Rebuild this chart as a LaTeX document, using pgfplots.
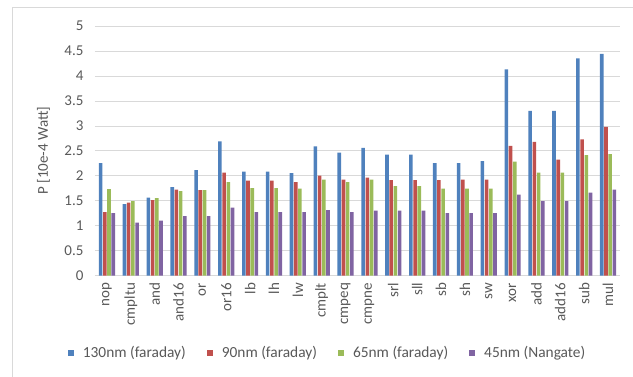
\documentclass[border=0pt]{standalone}
\usepackage{fontspec}
\setmainfont{Carlito}
\usepackage{pgfplots}
\usepackage{pgfplotstable}
\pgfplotsset{compat=1.18}

\definecolor{c130}{HTML}{4F81BD}
\definecolor{c90}{HTML}{C0504D}
\definecolor{c65}{HTML}{9BBB59}
\definecolor{c45}{HTML}{8064A2}
\definecolor{txt}{HTML}{595959}
\definecolor{gridc}{HTML}{D9D9D9}

% Power per instruction, in units of 10e-4 W
\pgfplotstableread{
x name   t130 t90  t65  t45
0  nop    2.25 1.27 1.73 1.25
1  cmpltu 1.43 1.46 1.49 1.06
2  and    1.56 1.51 1.55 1.10
3  and16  1.77 1.72 1.69 1.19
4  or     2.11 1.71 1.71 1.19
5  or16   2.69 2.06 1.87 1.36
6  lb     2.08 1.90 1.75 1.27
7  lh     2.08 1.90 1.75 1.27
8  lw     2.05 1.87 1.74 1.27
9  cmplt  2.59 2.00 1.92 1.31
10 cmpeq  2.46 1.92 1.87 1.27
11 cmpne  2.56 1.96 1.92 1.30
12 srl    2.42 1.91 1.79 1.30
13 sll    2.42 1.91 1.79 1.30
14 sb     2.25 1.91 1.74 1.25
15 sh     2.25 1.92 1.74 1.25
16 sw     2.29 1.92 1.74 1.25
17 xor    4.13 2.60 2.28 1.62
18 add    3.30 2.68 2.06 1.49
19 add16  3.30 2.32 2.06 1.49
20 sub    4.35 2.73 2.41 1.66
21 mul    4.44 2.98 2.43 1.72
}\data

\begin{document}
\begin{tikzpicture}[x=1pt,y=1pt]
\useasboundingbox (0,0) rectangle (633,376);
\draw[gridc, line width=0.8pt] (12,-2) -- (12,369) -- (640,369);
\begin{axis}[
  at={(95pt,100.5pt)}, anchor=south west,
  scale only axis, width=525pt, height=249.5pt,
  xmin=-0.5, xmax=21.5, ymin=0, ymax=5,
  ybar=0.6pt, bar width=3.6pt,
  xtick=data, xticklabels from table={\data}{name},
  ytick={0,0.5,1,1.5,2,2.5,3,3.5,4,4.5,5},
  /pgf/number format/assume math mode=true,
  major tick length=0pt,
  axis x line*=bottom, axis y line*=left,
  y axis line style={draw=none},
  x axis line style={draw=gridc, line width=0.8pt},
  ymajorgrids, grid style={gridc, line width=0.6pt},
  tick label style={text=txt, font=\fontsize{15}{16}\selectfont},
  xticklabel style={rotate=90, anchor=east, xshift=-4pt},
  yticklabel style={xshift=-8pt},
  ylabel={P [10e-4 Watt]},
  every axis y label/.style={at={(axis description cs:-0.098,0.5)}, rotate=90, anchor=center,
    font=\fontsize{15}{16}\selectfont, text=txt},
  legend columns=4,
  legend style={draw=none, at={(0.443,-0.311)}, anchor=center,
    font=\fontsize{15.4}{16}\selectfont, text=txt,
    /tikz/every odd column/.append style={column sep=7pt},
    /tikz/every even column/.append style={column sep=19pt}},
  legend image code/.code={\fill[#1] (0pt,-3pt) rectangle (6pt,3pt);},
]
\addplot[fill=c130, draw=none] table[x=x, y=t130] {\data};
\addplot[fill=c90,  draw=none] table[x=x, y=t90]  {\data};
\addplot[fill=c65,  draw=none] table[x=x, y=t65]  {\data};
\addplot[fill=c45,  draw=none] table[x=x, y=t45]  {\data};
\legend{130nm (faraday), 90nm (faraday), 65nm (faraday), 45nm (Nangate)}
\end{axis}
\end{tikzpicture}
\end{document}
